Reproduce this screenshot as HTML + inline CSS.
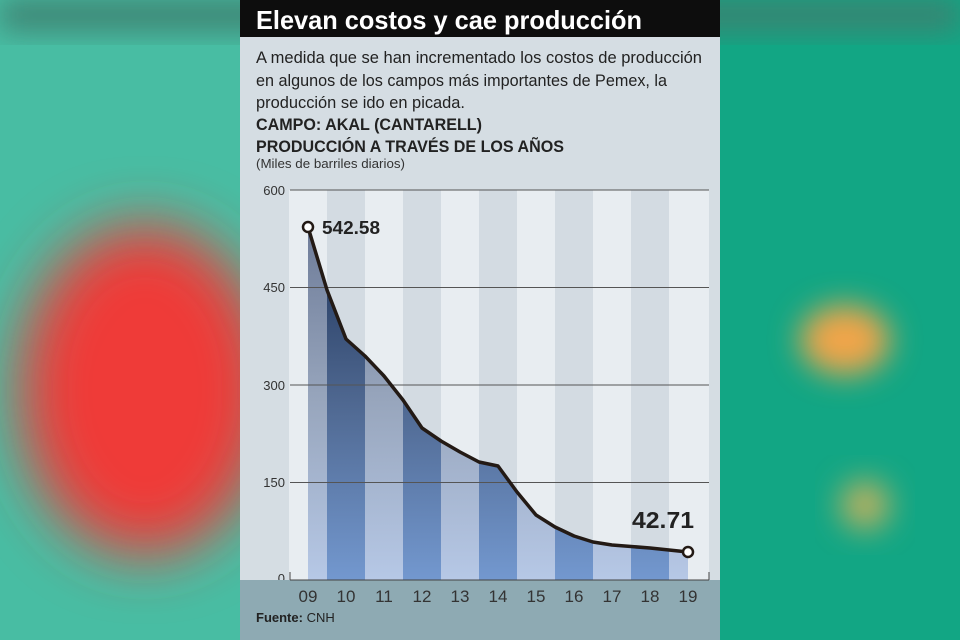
<!DOCTYPE html>
<html><head><meta charset="utf-8"><style>
html,body{margin:0;padding:0;width:960px;height:640px;overflow:hidden;background:#2fb394}
</style></head><body>
<svg width="960" height="640" viewBox="0 0 960 640" xmlns="http://www.w3.org/2000/svg" font-family="Liberation Sans, sans-serif">
<defs>
<filter id="bl" x="-50%" y="-50%" width="200%" height="200%"><feGaussianBlur stdDeviation="30"/></filter>
<filter id="bl2" x="-50%" y="-50%" width="200%" height="200%"><feGaussianBlur stdDeviation="15"/></filter>
<linearGradient id="gd" x1="0" y1="227" x2="0" y2="580" gradientUnits="userSpaceOnUse">
<stop offset="0" stop-color="#1e3358"/><stop offset="0.5" stop-color="#4f6891"/><stop offset="1" stop-color="#7398cf"/></linearGradient>
<linearGradient id="gl" x1="0" y1="227" x2="0" y2="580" gradientUnits="userSpaceOnUse">
<stop offset="0" stop-color="#6e7c99"/><stop offset="0.5" stop-color="#98a6bd"/><stop offset="1" stop-color="#b6c8e6"/></linearGradient>
<clipPath id="ar"><path d="M308,227 L327,290 L346,339 L365,356 L384,376 L403,400 L422,428 L441,441 L460,452 L479,462 L498,466 L517,492 L536,515 L555,527 L574,536 L593,542 L612,545 L650,548 L688,552 L688,580 L308,580Z"/></clipPath>
</defs>
<rect x="0" y="0" width="240" height="640" fill="#48bda3"/>
<rect x="720" y="0" width="240" height="640" fill="#12a684"/>
<rect x="0" y="0" width="960" height="30" fill="#3d8070" filter="url(#bl2)"/>
<ellipse cx="145" cy="390" rx="125" ry="165" fill="#ef3b37" filter="url(#bl)"/>
<ellipse cx="845" cy="340" rx="45" ry="35" fill="#f0a548" filter="url(#bl2)"/>
<ellipse cx="865" cy="505" rx="25" ry="25" fill="#b8b060" filter="url(#bl2)"/>
<rect x="240" y="0" width="480" height="640" fill="#d5dde3"/>
<rect x="240" y="0" width="480" height="37" fill="#0d0d0d"/>
<text x="256" y="29" font-size="26" font-weight="bold" fill="#fff" textLength="386" lengthAdjust="spacingAndGlyphs">Elevan costos y cae producción</text>
<g font-size="16.5" fill="#222">
<text x="256" y="63" textLength="446" lengthAdjust="spacingAndGlyphs">A medida que se han incrementado los costos de producción</text>
<text x="256" y="86" textLength="411" lengthAdjust="spacingAndGlyphs">en algunos de los campos más importantes de Pemex, la</text>
<text x="256" y="108" textLength="209" lengthAdjust="spacingAndGlyphs">producción se ido en picada.</text>
<text x="256" y="130" font-weight="bold" textLength="226" lengthAdjust="spacingAndGlyphs">CAMPO: AKAL (CANTARELL)</text>
<text x="256" y="152" font-weight="bold" textLength="308" lengthAdjust="spacingAndGlyphs">PRODUCCIÓN A TRAVÉS DE LOS AÑOS</text>
</g>
<text x="256" y="168" font-size="13" fill="#333" textLength="149" lengthAdjust="spacingAndGlyphs">(Miles de barriles diarios)</text>
<g>
<rect x="289" y="190" width="38" height="390" fill="#e8edf1"/>
<rect x="327" y="190" width="38" height="390" fill="#d3dbe2"/>
<rect x="365" y="190" width="38" height="390" fill="#e8edf1"/>
<rect x="403" y="190" width="38" height="390" fill="#d3dbe2"/>
<rect x="441" y="190" width="38" height="390" fill="#e8edf1"/>
<rect x="479" y="190" width="38" height="390" fill="#d3dbe2"/>
<rect x="517" y="190" width="38" height="390" fill="#e8edf1"/>
<rect x="555" y="190" width="38" height="390" fill="#d3dbe2"/>
<rect x="593" y="190" width="38" height="390" fill="#e8edf1"/>
<rect x="631" y="190" width="38" height="390" fill="#d3dbe2"/>
<rect x="669" y="190" width="40" height="390" fill="#e8edf1"/>
</g>
<g clip-path="url(#ar)">
<rect x="289" y="190" width="420" height="390" fill="url(#gl)"/>
<rect x="327" y="190" width="38" height="390" fill="url(#gd)"/>
<rect x="403" y="190" width="38" height="390" fill="url(#gd)"/>
<rect x="479" y="190" width="38" height="390" fill="url(#gd)"/>
<rect x="555" y="190" width="38" height="390" fill="url(#gd)"/>
<rect x="631" y="190" width="38" height="390" fill="url(#gd)"/>
</g>
<g stroke="#555" stroke-width="1">
<line x1="290" y1="190" x2="709" y2="190"/>
<line x1="290" y1="287.5" x2="709" y2="287.5"/>
<line x1="290" y1="385" x2="709" y2="385"/>
<line x1="290" y1="482.5" x2="709" y2="482.5"/>
</g>
<g font-size="13" fill="#333" text-anchor="end">
<text x="285" y="195">600</text><text x="285" y="292">450</text><text x="285" y="390">300</text><text x="285" y="487">150</text><text x="285" y="583">0</text>
</g>
<rect x="240" y="580" width="480" height="60" fill="#8eaab3"/>
<g stroke="#444" stroke-width="1">
<line x1="290" y1="580" x2="709" y2="580"/>
<line x1="290" y1="572" x2="290" y2="580"/><line x1="709" y1="572" x2="709" y2="580"/>
</g>
<polyline points="308,227 327,290 346,339 365,356 384,376 403,400 422,428 441,441 460,452 479,462 498,466 517,492 536,515 555,527 574,536 593,542 612,545 650,548 688,552" fill="none" stroke="#231a15" stroke-width="3.5" stroke-linejoin="round"/>
<circle cx="308" cy="227" r="5" fill="#fff" stroke="#231a15" stroke-width="2.5"/>
<circle cx="688" cy="552" r="5" fill="#fff" stroke="#231a15" stroke-width="2.5"/>
<text x="322" y="234" font-size="18" font-weight="bold" fill="#222" textLength="58" lengthAdjust="spacingAndGlyphs">542.58</text>
<text x="632" y="528" font-size="23" font-weight="bold" fill="#222" textLength="62" lengthAdjust="spacingAndGlyphs">42.71</text>
<g font-size="17" fill="#333" text-anchor="middle">
<text x="308" y="602">09</text><text x="346" y="602">10</text><text x="384" y="602">11</text><text x="422" y="602">12</text><text x="460" y="602">13</text><text x="498" y="602">14</text><text x="536" y="602">15</text><text x="574" y="602">16</text><text x="612" y="602">17</text><text x="650" y="602">18</text><text x="688" y="602">19</text>
</g>
<text x="256" y="622" font-size="13" fill="#222"><tspan font-weight="bold">Fuente:</tspan> CNH</text>
</svg>
</body></html>
